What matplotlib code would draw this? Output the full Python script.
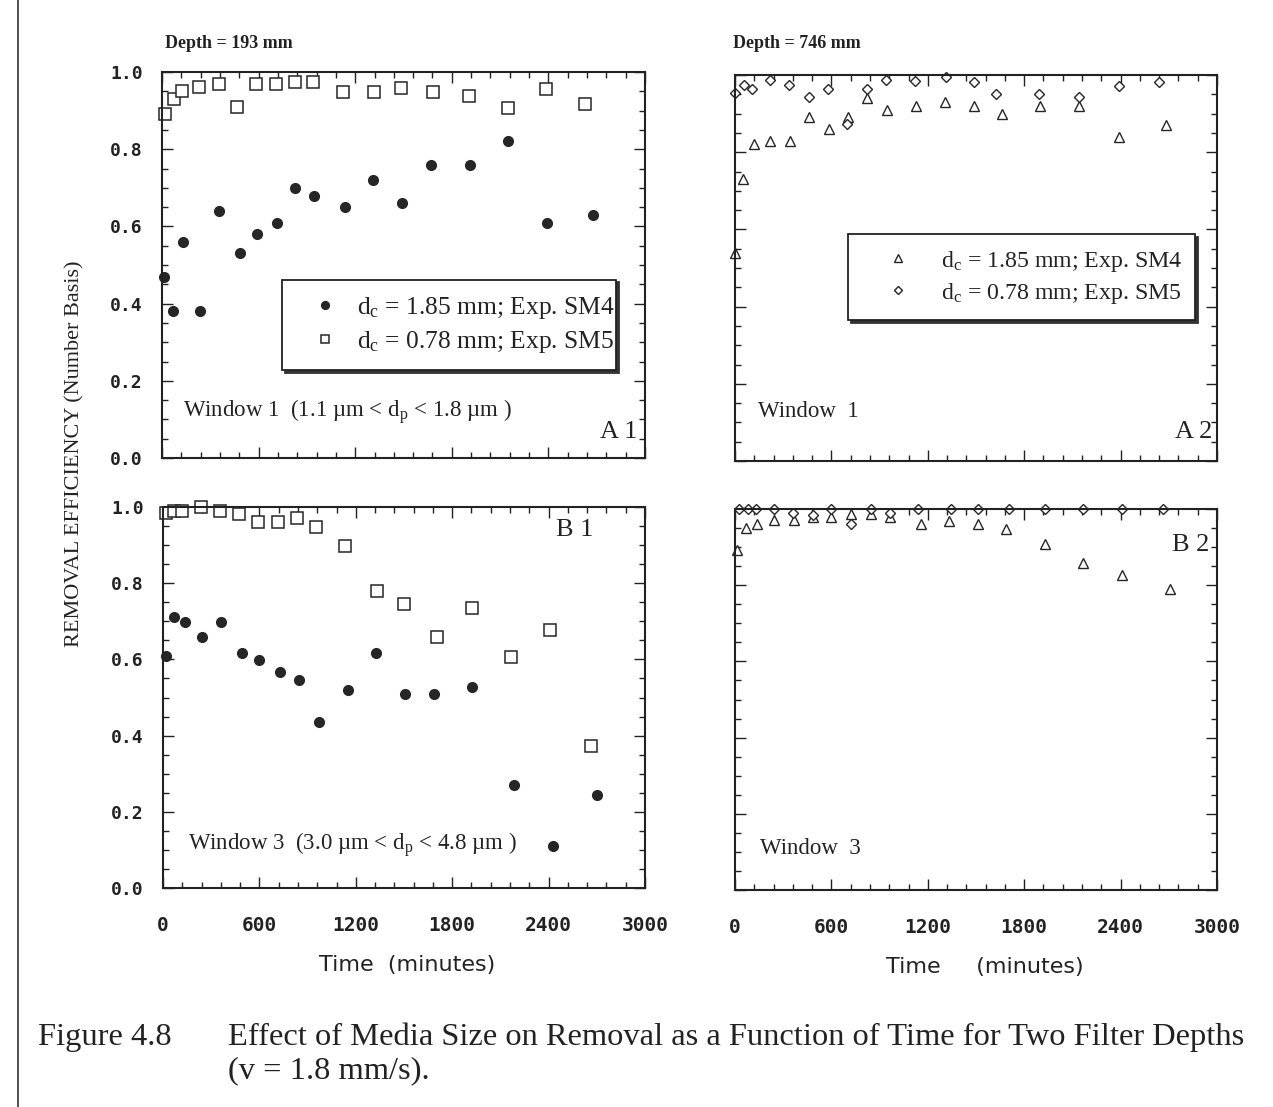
import numpy as np
import matplotlib.pyplot as plt
from matplotlib.ticker import MultipleLocator, FuncFormatter

plt.rcParams['mathtext.fontset'] = 'custom'
plt.rcParams['mathtext.rm'] = 'Liberation Serif'
plt.rcParams['mathtext.it'] = 'Liberation Serif'

SERIF = ['Liberation Serif', 'DejaVu Serif']
MONO = ['DejaVu Sans Mono']

# --- data (time in minutes, efficiency) ---
a1_sq_t = [20, 72, 124, 231, 351, 466, 586, 708, 826, 940, 1123, 1318, 1486, 1685, 1908, 2147, 2385, 2627]
a1_sq_v = [0.89, 0.93, 0.95, 0.96, 0.97, 0.91, 0.97, 0.97, 0.975, 0.975, 0.948, 0.948, 0.958, 0.948, 0.938, 0.906, 0.956, 0.917]
a1_ci_t = [14, 68, 130, 238, 351, 482, 592, 714, 828, 946, 1139, 1313, 1489, 1670, 1910, 2147, 2389, 2675]
a1_ci_v = [0.47, 0.38, 0.56, 0.38, 0.64, 0.53, 0.58, 0.61, 0.70, 0.68, 0.65, 0.72, 0.66, 0.76, 0.76, 0.82, 0.61, 0.63]

a2_tri_t = [3, 48, 117, 217, 343, 463, 583, 704, 822, 944, 1129, 1309, 1485, 1662, 1900, 2144, 2391, 2681]
a2_tri_v = [0.54, 0.73, 0.82, 0.83, 0.83, 0.89, 0.86, 0.89, 0.94, 0.91, 0.92, 0.93, 0.92, 0.90, 0.92, 0.92, 0.84, 0.87]
a2_dia_t = [3, 55, 103, 215, 335, 459, 580, 700, 820, 940, 1118, 1313, 1485, 1626, 1895, 2138, 2391, 2636]
a2_dia_v = [0.954, 0.975, 0.964, 0.986, 0.974, 0.944, 0.964, 0.874, 0.965, 0.986, 0.984, 0.994, 0.982, 0.952, 0.952, 0.943, 0.971, 0.981]

b1_sq_t = [19, 70, 120, 234, 356, 474, 594, 717, 835, 953, 1133, 1334, 1500, 1703, 1924, 2169, 2407, 2662]
b1_sq_v = [0.985, 0.99, 0.99, 1.0, 0.99, 0.981, 0.96, 0.96, 0.97, 0.948, 0.898, 0.779, 0.746, 0.658, 0.735, 0.607, 0.677, 0.372]
b1_ci_t = [19, 68, 137, 241, 362, 491, 600, 728, 846, 969, 1152, 1328, 1505, 1686, 1924, 2183, 2425, 2701]
b1_ci_v = [0.609, 0.71, 0.698, 0.659, 0.698, 0.618, 0.598, 0.567, 0.547, 0.436, 0.519, 0.618, 0.508, 0.508, 0.528, 0.27, 0.11, 0.245]

b2_tri_t = [14, 70, 138, 241, 366, 484, 600, 725, 845, 965, 1160, 1334, 1510, 1688, 1927, 2169, 2411, 2707]
b2_tri_v = [0.892, 0.949, 0.961, 0.97, 0.97, 0.98, 0.978, 0.988, 0.986, 0.978, 0.961, 0.969, 0.96, 0.948, 0.908, 0.857, 0.827, 0.79]
b2_dia_t = [24, 80, 128, 241, 362, 484, 600, 725, 845, 965, 1139, 1342, 1512, 1707, 1927, 2165, 2408, 2663]
b2_dia_v = [1.0, 1.0, 1.0, 1.0, 0.99, 0.985, 1.0, 0.961, 1.0, 0.99, 1.0, 1.0, 1.0, 1.0, 1.0, 1.0, 1.0, 1.0]

lab_185 = r'd$_\mathrm{c}$ = 1.85 mm; Exp. SM4'
lab_078 = r'd$_\mathrm{c}$ = 0.78 mm; Exp. SM5'

W, H = 1273, 1107
fig = plt.figure(figsize=(W / 100, H / 100), dpi=100)
fig.patch.set_facecolor('white')


def px_axes(left, top, right, bottom):
    return fig.add_axes([left / W, 1 - bottom / H, (right - left) / W, (bottom - top) / H])


def style(ax, xlabels):
    ax.set_xlim(0, 3000)
    ax.set_ylim(0, 1.0)
    ax.xaxis.set_major_locator(MultipleLocator(600))
    ax.xaxis.set_minor_locator(MultipleLocator(120))
    ax.yaxis.set_major_locator(MultipleLocator(0.2))
    ax.yaxis.set_minor_locator(MultipleLocator(0.05))
    ax.tick_params(which='both', direction='in', top=True, right=True, width=1.0, color='#222')
    ax.tick_params(which='major', length=8)
    ax.tick_params(which='minor', length=4)
    ax.tick_params(axis='y', pad=14)
    ax.tick_params(axis='x', pad=20)
    for s in ax.spines.values():
        s.set_linewidth(1.5)
        s.set_color('#222')
    ax.yaxis.set_major_formatter(FuncFormatter(lambda v, p: f'{v:.1f}'))
    for t in ax.get_yticklabels():
        t.set_fontfamily(MONO)
        t.set_fontsize(13)
        t.set_fontweight('bold')
        t.set_color('#222')
    if xlabels:
        ax.xaxis.set_major_formatter(FuncFormatter(lambda v, p: f'{int(v)}'))
        for t in ax.get_xticklabels():
            t.set_fontfamily(MONO)
            t.set_fontsize(14)
            t.set_fontweight('bold')
            t.set_color('#222')
    else:
        ax.set_xticklabels([])


ink = '#262626'
ax_a1 = px_axes(162, 72, 645, 458)
ax_a2 = px_axes(735, 75, 1217, 461)
ax_b1 = px_axes(163, 507, 645, 888)
ax_b2 = px_axes(735, 509, 1217, 890)

# A1
ax_a1.plot(a1_ci_t, a1_ci_v, 'o', ms=7, color=ink, mec=ink, clip_on=False, label=lab_185)
ax_a1.plot(a1_sq_t, a1_sq_v, 's', ms=8, mfc='white', mec=ink, mew=1.1, ls='none', clip_on=False, label=lab_078)
# A2
ax_a2.plot(a2_tri_t, a2_tri_v, '^', ms=6.5, mfc='white', mec=ink, mew=1.0, ls='none', clip_on=False, label=lab_185)
ax_a2.plot(a2_dia_t, a2_dia_v, 'D', ms=5.5, mfc='white', mec=ink, mew=1.0, ls='none', clip_on=False, label=lab_078)
# B1
ax_b1.plot(b1_ci_t, b1_ci_v, 'o', ms=7, color=ink, mec=ink, clip_on=False)
ax_b1.plot(b1_sq_t, b1_sq_v, 's', ms=8, mfc='white', mec=ink, mew=1.1, ls='none', clip_on=False)
# B2
ax_b2.plot(b2_tri_t, b2_tri_v, '^', ms=6.5, mfc='white', mec=ink, mew=1.0, ls='none', clip_on=False)
ax_b2.plot(b2_dia_t, b2_dia_v, 'D', ms=5.5, mfc='white', mec=ink, mew=1.0, ls='none', clip_on=False)

style(ax_a1, False)
style(ax_a2, False)
style(ax_b1, True)
style(ax_b2, True)
for ax in (ax_a2, ax_b2):
    ax.set_yticklabels([])


def add_legend(ax, bbox, size, hl, htp):
    leg = ax.legend(loc='lower left', bbox_to_anchor=bbox, mode='expand', frameon=True,
                    fancybox=False, shadow={'color': '#333', 'alpha': 1.0},
                    edgecolor='#222', framealpha=1, prop={'family': SERIF, 'size': size},
                    handlelength=hl, handletextpad=htp, borderpad=0.6, labelspacing=0.3,
                    markerscale=0.8, borderaxespad=0)
    leg.get_frame().set_linewidth(1.3)
    for t in leg.get_texts():
        t.set_color('#222')
    return leg


add_legend(ax_a1, (0.248, 0.228, 0.692, 0.238), 18.4, 2.2, 0.15)
add_legend(ax_a2, (0.234, 0.365, 0.72, 0.254), 17.2, 3.0, 0.3)

txt = dict(family=SERIF, color='#222')
ax_a1.text(0.043, 0.119, r'Window 1  (1.1 µm < d$_\mathrm{p}$ < 1.8 µm )', transform=ax_a1.transAxes,
           fontsize=16.5, va='center', ha='left', **txt)
ax_a2.text(0.048, 0.127, 'Window  1', transform=ax_a2.transAxes, fontsize=16.5, va='center', ha='left', **txt)
ax_b1.text(0.052, 0.113, r'Window 3  (3.0 µm < d$_\mathrm{p}$ < 4.8 µm )', transform=ax_b1.transAxes,
           fontsize=16.5, va='center', ha='left', **txt)
ax_b2.text(0.052, 0.11, 'Window  3', transform=ax_b2.transAxes, fontsize=16.5, va='center', ha='left', **txt)

ax_a1.text(0.985, 0.067, 'A 1', transform=ax_a1.transAxes, fontsize=19, va='center', ha='right', **txt)
ax_a2.text(0.99, 0.075, 'A 2', transform=ax_a2.transAxes, fontsize=19, va='center', ha='right', **txt)
ax_b1.text(0.892, 0.94, 'B 1', transform=ax_b1.transAxes, fontsize=19, va='center', ha='right', **txt)
ax_b2.text(0.985, 0.906, 'B 2', transform=ax_b2.transAxes, fontsize=19, va='center', ha='right', **txt)

fig.text(165 / W, 1 - 44 / H, 'Depth = 193 mm', fontsize=13, va='center', ha='left', weight='bold', **txt)
fig.text(733 / W, 1 - 44 / H, 'Depth = 746 mm', fontsize=13, va='center', ha='left', weight='bold', **txt)

fig.text(75 / W, 1 - 454 / H, 'REMOVAL EFFICIENCY (Number Basis)', rotation=90, fontsize=16,
         va='center', ha='center', **txt)

fig.text(407 / W, 1 - 965 / H, 'Time  (minutes)', fontsize=16, va='center', ha='center',
         family=['DejaVu Sans'], color='#222')
fig.text(985 / W, 1 - 967 / H, 'Time     (minutes)', fontsize=16, va='center', ha='center',
         family=['DejaVu Sans'], color='#222')

fig.text(38 / W, 1 - 1037 / H, 'Figure 4.8', fontsize=23.4, va='center', ha='left', **txt)
fig.text(228 / W, 1 - 1037 / H, 'Effect of Media Size on Removal as a Function of Time for Two Filter Depths',
         fontsize=23.4, va='center', ha='left', **txt)
fig.text(228 / W, 1 - 1071 / H, '(v = 1.8 mm/s).', fontsize=23.4, va='center', ha='left', **txt)

# left edge of the scanned page frame
fig.add_artist(plt.Line2D([18 / W, 18 / W], [0, 1], transform=fig.transFigure, color='#333', lw=1.2))

fig.savefig('out.png', dpi=100, facecolor='white')
